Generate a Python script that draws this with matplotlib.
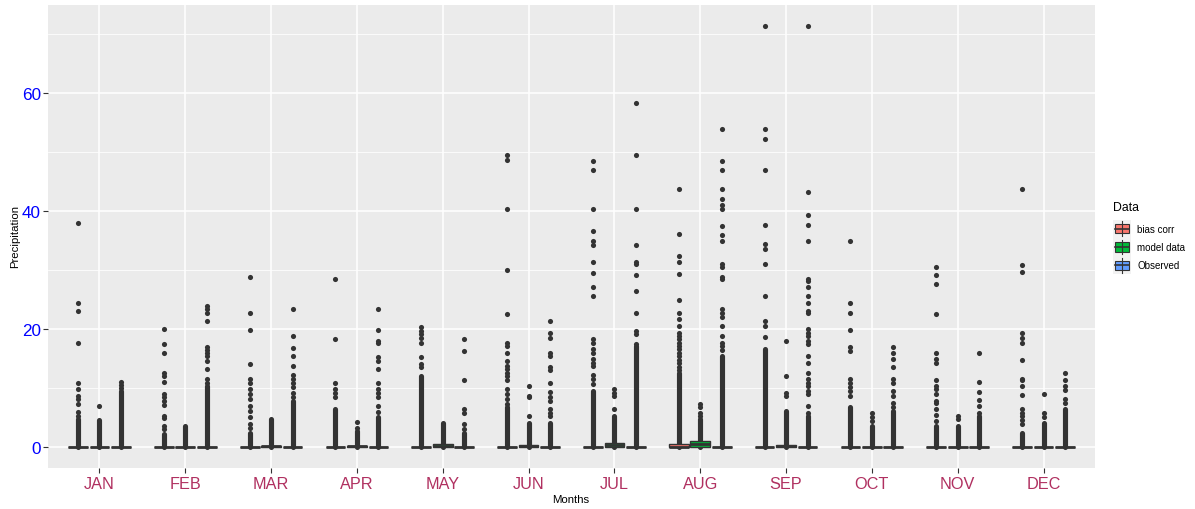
import matplotlib
matplotlib.use("Agg")
import matplotlib.pyplot as plt
from matplotlib.patches import Rectangle
from matplotlib.lines import Line2D

plt.rcParams['font.family'] = ['Liberation Sans', 'DejaVu Sans']

months = ["JAN", "FEB", "MAR", "APR", "MAY", "JUN", "JUL", "AUG", "SEP", "OCT", "NOV", "DEC"]
groups = ["bias corr", "model data", "Observed"]
colors = ["#F8766D", "#00BA38", "#619CFF"]

# box statistics (q1 is 0 everywhere)
bias_med = [0, 0, 0, 0, 0, 0, 0, 0.05, 0, 0, 0, 0]
bias_q3 = [0, 0, 0, 0, 0, 0, 0, 0.55, 0, 0, 0, 0]
model_med = [0, 0, 0.1, 0.1, 0.2, 0.1, 0.3, 0.45, 0.1, 0, 0, 0]
model_q3 = [0, 0, 0.2, 0.2, 0.45, 0.3, 0.6, 0.95, 0.4, 0, 0, 0]
obs_med = [0] * 12
obs_q3 = [0] * 12

# top of the solid column of overlapping outliers
bias_dense = [4.7, 2.2, 2.4, 6.4, 12.1, 6.7, 9.5, 12.6, 16.6, 6.7, 3.6, 2.4]
model_dense = [4.6, 3.6, 4.7, 2.7, 4.1, 4.1, 5.3, 4.7, 6.1, 3.6, 3.6, 4.1]
obs_dense = [9.5, 10.4, 7.8, 5.0, 2.4, 4.1, 17.2, 15.5, 5.3, 6.1, 5.3, 6.5]

# separate outliers
bias_out = [
    [38.0, 24.4, 23.0, 17.6, 10.9, 9.8, 8.6, 8.2, 7.3, 6.0, 5.3],
    [20.0, 17.4, 15.9, 12.5, 12.0, 11.0, 9.0, 8.4, 7.8, 7.2, 5.3, 4.9, 3.6, 3.0],
    [28.9, 22.7, 19.8, 14.1, 11.5, 10.9, 9.8, 9.0, 8.1, 7.0, 6.1, 5.0, 3.9, 3.3],
    [28.5, 18.3, 10.9, 9.8, 9.2, 8.4],
    [20.3, 19.7, 19.2, 18.4, 17.7, 15.2, 14.1, 13.5],
    [49.5, 48.6, 40.4, 30.1, 22.6, 17.7, 17.2, 15.9, 14.5, 13.8, 13.2, 12.6, 12.1, 11.3, 9.8, 9.0, 8.1, 7.3],
    [48.5, 46.9, 40.4, 36.6, 35.0, 34.2, 31.3, 29.5, 27.1, 25.6, 18.3, 17.7, 16.6, 16.0, 15.0, 14.3, 13.7, 12.2, 11.5, 10.7],
    [43.7, 36.2, 32.4, 31.3, 29.4, 24.9, 22.8, 21.7, 20.5, 19.4, 18.9, 18.3, 17.7, 17.2, 16.6, 16.0, 15.4, 14.8, 14.2, 13.6, 13.1],
    [71.4, 53.9, 52.2, 46.9, 37.6, 34.5, 33.6, 31.0, 25.6, 21.4, 20.6, 18.6],
    [34.9, 24.5, 22.8, 19.8, 16.9, 16.3, 11.5, 10.9, 10.1, 9.5, 8.7],
    [30.5, 29.2, 27.6, 22.6, 15.9, 14.9, 14.3, 11.4, 10.3, 9.8, 9.0, 7.8, 7.5, 6.4, 5.4, 4.4],
    [43.7, 30.9, 29.6, 19.4, 18.4, 17.6, 14.8, 11.6, 11.4, 10.3, 8.8, 6.4, 5.8, 5.3, 4.6, 3.9],
]
model_out = [
    [7.0], [], [], [4.3, 3.2], [], [10.4, 8.7, 8.4, 5.3], [9.8, 9.2, 8.6, 6.4],
    [7.3, 6.7, 5.8, 5.3], [18.0, 12.0, 9.2, 8.7], [5.8, 5.0, 4.4], [5.3, 4.7], [9.0, 5.7, 5.1],
]
obs_out = [
    [11.0, 10.5, 10.0],
    [23.9, 23.4, 22.8, 21.3, 16.9, 16.5, 16.0, 15.5, 14.5, 13.2, 11.5, 10.9],
    [23.4, 18.9, 16.8, 15.5, 13.8, 12.2, 11.5, 10.9, 10.1, 9.2, 8.4],
    [23.4, 19.8, 17.9, 17.6, 15.2, 14.6, 13.3, 10.9, 9.8, 9.1, 8.4, 7.0, 6.0],
    [18.3, 16.3, 11.3, 6.4, 5.8, 3.9, 3.0],
    [21.3, 19.3, 18.4, 15.9, 15.5, 13.5, 13.1, 10.9, 9.4, 8.4, 7.8, 6.4, 5.8, 5.3],
    [58.3, 49.5, 40.4, 34.2, 31.3, 31.1, 29.1, 26.5, 22.7, 19.6, 19.2, 17.5],
    [53.9, 48.5, 46.9, 43.7, 42.1, 41.0, 40.4, 37.4, 36.0, 34.9, 31.1, 30.5, 28.8, 28.5, 23.4,
     22.8, 22.0, 20.6, 18.9, 17.7, 17.2, 16.5],
    [71.4, 43.3, 39.3, 37.6, 34.9, 28.5, 28.1, 27.1, 25.6, 24.4, 23.1, 22.8, 20.0, 19.4, 18.9,
     18.0, 17.5, 15.5, 14.3, 12.6, 11.5, 10.9, 10.4, 9.5, 9.0, 7.0, 5.8],
    [16.9, 15.9, 14.9, 13.5, 11.5, 10.9, 9.5, 8.7, 7.5, 6.7],
    [15.9, 11.1, 9.4, 7.9, 6.9, 5.8],
    [12.5, 11.4, 10.4, 9.7, 8.1, 7.5],
]

W, H = 1195, 510
fig = plt.figure(figsize=(W / 100, H / 100), dpi=100)
ax = fig.add_axes([48 / W, 1 - 469 / H, (1095 - 48) / W, (469 - 6) / H])
ax.set_facecolor("#EBEBEB")
for s in ax.spines.values():
    s.set_visible(False)

DARK = "#333333"
offsets = [-0.25, 0.0, 0.25]
box_w = 0.23
msize = 3.7

meds = [bias_med, model_med, obs_med]
q3s = [bias_q3, model_q3, obs_q3]
denses = [bias_dense, model_dense, obs_dense]
outs = [bias_out, model_out, obs_out]

for g in range(3):
    for i in range(12):
        x = i + 1 + offsets[g]
        ax.plot([x, x], [0, denses[g][i]], color=DARK, lw=msize,
                solid_capstyle="round", zorder=2)
        if outs[g][i]:
            ax.plot([x] * len(outs[g][i]), outs[g][i], "o", color=DARK,
                    ms=msize, mew=0, zorder=2)
    stats = [dict(med=meds[g][i], q1=0.0, q3=q3s[g][i], whislo=0.0,
                  whishi=q3s[g][i], fliers=[]) for i in range(12)]
    pos = [i + 1 + offsets[g] for i in range(12)]
    ax.bxp(stats, positions=pos, widths=box_w, patch_artist=True,
           showfliers=False, showcaps=False,
           boxprops=dict(facecolor=colors[g], edgecolor=DARK, lw=1.0),
           medianprops=dict(color=DARK, lw=2.0, solid_capstyle="butt"),
           whiskerprops=dict(color=DARK, lw=1.0), manage_ticks=False,
           zorder=3)

ax.set_xlim(0.4, 12.6)
ax.set_ylim(-3.57, 74.97)
ax.set_xticks(range(1, 13))
ax.set_xticklabels(months)
ax.set_yticks([0, 20, 40, 60])
ax.set_yticks([10, 30, 50, 70], minor=True)
ax.grid(which="major", color="white", lw=1.1, zorder=0)
ax.grid(which="minor", axis="y", color="white", lw=0.55, zorder=0)
ax.set_axisbelow(True)
ax.tick_params(axis="x", which="major", colors=DARK, length=3.5, width=0.8,
               labelcolor="#B03060", labelsize=11.7, pad=2)
ax.tick_params(axis="y", which="major", colors=DARK, length=3.5, width=0.8,
               labelcolor="blue", labelsize=12.3, pad=1.5)
ax.tick_params(axis="y", which="minor", length=0)

fig.text(15 / W, 1 - 237 / H, "Precipitation", rotation=90, ha="center",
         va="center", fontsize=8.2, color="black")
fig.text(571 / W, 1 - 500 / H, "Months", ha="center", va="center",
         fontsize=8.2, color="black")

# legend
fig.text(1113 / W, 1 - 208 / H, "Data", ha="left", va="center", fontsize=8.8)
ks = 18.3
for g in range(3):
    x0 = 1112.5
    yt = 220.5 + ks * g
    fig.add_artist(Rectangle((x0 / W, 1 - (yt + ks) / H), ks / W, ks / H,
                             transform=fig.transFigure, facecolor="#F2F2F2",
                             edgecolor="none"))
    cx = x0 + ks / 2
    fig.add_artist(Line2D([cx / W, cx / W], [1 - (yt + 1.8) / H, 1 - (yt + ks - 1.8) / H],
                          transform=fig.transFigure, color=DARK, lw=0.8))
    bw, bh = ks * 0.78, ks * 0.5
    fig.add_artist(Rectangle(((cx - bw / 2) / W, 1 - (yt + ks / 2 + bh / 2) / H),
                             bw / W, bh / H, transform=fig.transFigure,
                             facecolor=colors[g], edgecolor=DARK, lw=0.8))
    fig.add_artist(Line2D([(cx - bw / 2) / W, (cx + bw / 2) / W],
                          [1 - (yt + ks / 2) / H] * 2, transform=fig.transFigure,
                          color=DARK, lw=1.2))
    fig.text(1137 / W, 1 - (yt + ks / 2) / H, groups[g], ha="left", va="center",
             fontsize=7)

fig.savefig("out.png", dpi=100)
